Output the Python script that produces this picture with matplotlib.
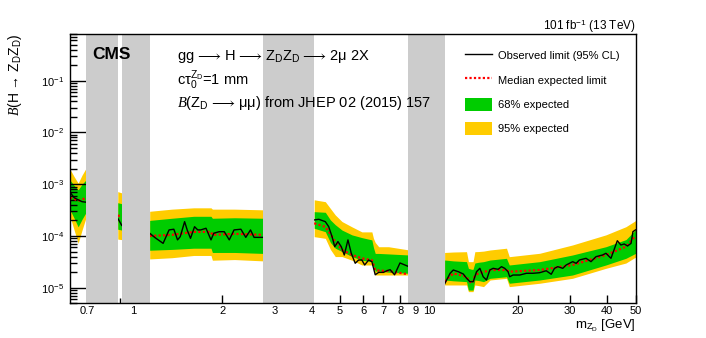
import numpy as np
import matplotlib
matplotlib.use("Agg")
import matplotlib.pyplot as plt
from matplotlib.lines import Line2D
from matplotlib.patches import Patch
from matplotlib.ticker import LogLocator, FixedLocator, NullFormatter

plt.rcParams['font.family'] = ['Liberation Sans', 'DejaVu Sans']
plt.rcParams['mathtext.fontset'] = 'custom'
plt.rcParams['mathtext.rm'] = 'Liberation Sans'
plt.rcParams['mathtext.it'] = 'Liberation Serif:italic'
plt.rcParams['mathtext.bf'] = 'Liberation Sans:bold'
plt.rcParams['mathtext.fallback'] = 'stix'

# mass windows removed from the search (GeV)
vetoed = [(0.69, 0.885), (0.913, 1.135), (2.75, 4.09), (8.5, 11.3)]

# expected bands, one list per mass segment
band_mass = [
    [0.61, 0.63, 0.65, 0.67, 0.69],
    [0.885, 0.913],
    [1.135, 1.35, 1.6, 1.83, 1.85, 2.2, 2.75],
    [4.09, 4.46, 4.64, 4.82, 5.08, 5.49, 5.93, 6.41, 6.49, 6.58, 6.76, 7.3, 8.5],
    [11.3, 12.1, 13.4, 13.6, 13.95, 14.1, 14.3, 14.7, 15.3, 16.1, 18.3, 18.7,
     23.7, 30.6, 39.7, 46.4, 50],
]
band95_hi = [
    [1.95e-3, 1.4e-3, 1.05e-3, 1.5e-3, 2.0e-3],
    [7.2e-4, 6.8e-4],
    [3.0e-4, 3.3e-4, 3.5e-4, 3.5e-4, 3.3e-4, 3.3e-4, 3.2e-4],
    [5.0e-4, 4.6e-4, 3.4e-4, 2.55e-4, 1.9e-4, 1.5e-4, 1.2e-4, 1.2e-4, 9.0e-5,
     7.5e-5, 6.2e-5, 6.2e-5, 5.4e-5],
    [4.8e-5, 4.9e-5, 4.97e-5, 3.19e-5, 3.19e-5, 3.19e-5, 4.97e-5, 5.0e-5, 5.1e-5,
     5.36e-5, 5.8e-5, 3.98e-5, 4.63e-5, 6.7e-5, 1.05e-4, 1.51e-4, 1.98e-4],
]
band68_hi = [
    [1.2e-3, 9.5e-4, 7.8e-4, 1.0e-3, 1.2e-3],
    [4.4e-4, 4.2e-4],
    [2.0e-4, 2.2e-4, 2.4e-4, 2.4e-4, 2.2e-4, 2.25e-4, 2.2e-4],
    [2.95e-4, 2.87e-4, 2.04e-4, 1.65e-4, 1.3e-4, 1.05e-4, 9.3e-5, 8.4e-5, 6.0e-5,
     4.6e-5, 4.6e-5, 4.5e-5, 4.3e-5],
    [3.43e-5, 3.3e-5, 3.19e-5, 2.37e-5, 2.27e-5, 2.27e-5, 3.0e-5, 3.1e-5, 3.19e-5,
     3.43e-5, 3.7e-5, 2.75e-5, 3.19e-5, 4.29e-5, 6.2e-5, 8.5e-5, 1.31e-4],
]
band68_lo = [
    [3.2e-4, 2.2e-4, 1.5e-4, 2.1e-4, 2.8e-4],
    [1.35e-4, 1.3e-4],
    [5.3e-5, 5.5e-5, 5.8e-5, 5.8e-5, 4.8e-5, 4.8e-5, 4.6e-5],
    [1.41e-4, 1.21e-4, 7.5e-5, 5.8e-5, 5.0e-5, 4.0e-5, 3.4e-5, 3.2e-5, 2.6e-5,
     2.1e-5, 2.1e-5, 2.0e-5, 1.9e-5],
    [1.41e-5, 1.36e-5, 1.31e-5, 9.0e-6, 9.0e-6, 9.0e-6, 1.41e-5, 1.38e-5, 1.31e-5,
     1.52e-5, 1.63e-5, 1.22e-5, 1.41e-5, 1.76e-5, 2.75e-5, 3.7e-5, 4.6e-5],
]
band95_lo = [
    [2.4e-4, 1.3e-4, 7.2e-5, 1.3e-4, 2.2e-4],
    [8.7e-5, 8.5e-5],
    [3.6e-5, 3.8e-5, 4.2e-5, 4.2e-5, 3.4e-5, 3.5e-5, 3.3e-5],
    [9.7e-5, 9.0e-5, 5.5e-5, 4.0e-5, 4.0e-5, 3.4e-5, 2.75e-5, 2.75e-5, 2.4e-5,
     1.76e-5, 1.76e-5, 1.76e-5, 1.76e-5],
    [1.13e-5, 1.13e-5, 1.13e-5, 8.4e-6, 8.4e-6, 8.4e-6, 1.13e-5, 1.1e-5, 1.05e-5,
     1.41e-5, 1.52e-5, 1.05e-5, 1.22e-5, 1.52e-5, 2.37e-5, 3.0e-5, 3.9e-5],
]
expected = [
    [5.5e-4, 5.2e-4, 4.8e-4, 5.0e-4, 5.5e-4],
    [2.5e-4, 2.3e-4],
    [1.0e-4, 1.05e-4, 1.2e-4, 1.2e-4, 1.05e-4, 1.1e-4, 1.05e-4],
    [1.76e-4, 1.5e-4, 1.1e-4, 7.6e-5, 5.4e-5, 4.3e-5, 3.7e-5, 3.4e-5, 2.8e-5,
     2.2e-5, 2.15e-5, 2.1e-5, 1.82e-5],
    [1.31e-5, 1.9e-5, 1.63e-5, 1.4e-5, 1.22e-5, 1.3e-5, 1.7e-5, 1.9e-5, 2.0e-5,
     2.2e-5, 2.2e-5, 2.04e-5, 2.2e-5, 2.75e-5, 4.29e-5, 6.2e-5, 1.0e-4],
]

# observed limit
obs_mass = [
    [0.61, 0.63, 0.65, 0.67, 0.69],
    [0.885, 0.913],
    [1.135, 1.18, 1.26, 1.32, 1.37, 1.41, 1.44, 1.49, 1.52, 1.56, 1.61, 1.65, 1.69,
     1.76, 1.83, 1.87, 1.95, 2.03, 2.11, 2.19, 2.31, 2.40, 2.49, 2.56, 2.66, 2.75],
    [4.09, 4.24, 4.46, 4.58, 4.70, 4.80, 4.92, 5.05, 5.17, 5.32, 5.46, 5.63, 5.78,
     5.93, 6.06, 6.25, 6.41, 6.58, 6.76, 7.02, 7.2, 7.39, 7.65, 7.98, 8.5],
    [11.3, 11.48, 11.79, 12.09, 12.57, 13.07, 13.41, 13.76, 14.12, 14.49, 14.87,
     15.26, 15.66, 16.07, 16.49, 17.14, 17.6, 18.05, 18.52, 18.76, 19.25, 20.28,
     21.37, 22.49, 23.68, 24.94, 25.93, 26.6, 27.29, 28.37, 29.13, 29.88, 30.65,
     31.48, 32.29, 34.01, 35.35, 36.75, 38.68, 39.71, 41.3, 43.4, 44.6, 45.8,
     47.0, 48.3, 49.0, 50],
]
observed = [
    [7.0e-4, 5.5e-4, 5.0e-4, 4.6e-4, 4.5e-4],
    [2.2e-4, 1.6e-4],
    [1.13e-4, 9.4e-5, 7.2e-5, 1.31e-4, 1.35e-4, 8.4e-5, 9.7e-5, 1.89e-4, 1.31e-4,
     9.0e-5, 1.51e-4, 1.31e-4, 1.31e-4, 1.41e-4, 8.4e-5, 1.13e-4, 1.21e-4, 1.21e-4,
     8.4e-5, 1.31e-4, 1.35e-4, 9.4e-5, 1.31e-4, 9.4e-5, 9.4e-5, 9.4e-5],
    [2.04e-4, 2.10e-4, 1.89e-4, 1.51e-4, 9.7e-5, 6.2e-5, 7.8e-5, 6.2e-5, 4.29e-5,
     8.4e-5, 4.63e-5, 2.97e-5, 3.43e-5, 3.43e-5, 2.75e-5, 3.43e-5, 3.19e-5, 1.78e-5,
     1.98e-5, 1.98e-5, 2.13e-5, 2.23e-5, 1.78e-5, 3.01e-5, 2.59e-5],
    [1.18e-5, 1.41e-5, 1.9e-5, 2.2e-5, 2.04e-5, 1.84e-5, 1.52e-5, 1.31e-5, 1.31e-5,
     2.04e-5, 2.37e-5, 1.63e-5, 1.41e-5, 2.2e-5, 2.37e-5, 2.27e-5, 2.55e-5, 2.37e-5,
     2.04e-5, 1.63e-5, 1.76e-5, 1.76e-5, 1.9e-5, 1.9e-5, 1.95e-5, 2.13e-5, 1.82e-5,
     2.37e-5, 2.55e-5, 2.37e-5, 2.75e-5, 2.96e-5, 3.19e-5, 2.96e-5, 3.43e-5,
     3.7e-5, 3.19e-5, 3.98e-5, 4.29e-5, 4.63e-5, 3.7e-5, 8.1e-5, 6.7e-5, 7.0e-5,
     6.4e-5, 7.2e-5, 1.21e-4, 1.31e-4],
]

xticks = [0.7, 1, 2, 3, 4, 5, 6, 7, 8, 9, 10, 20, 30, 40, 50]
xticklabels = ['0.7', '1', '2', '3', '4', '5', '6', '7', '8', '9', '10',
               '20', '30', '40', '50']

green = '#00cc00'
yellow = '#ffcc00'
gray = '#cccccc'

W, H = 706, 338
fig = plt.figure(figsize=(W / 100, H / 100), dpi=100)
ax = fig.add_axes([70 / W, 1 - 303.3 / H, 565.5 / W, 269.3 / H])
ax.set_xscale('log')
ax.set_yscale('log')

for i in range(len(band_mass)):
    ax.fill_between(band_mass[i], band95_lo[i], band95_hi[i], color=yellow, lw=0)
    ax.fill_between(band_mass[i], band68_lo[i], band68_hi[i], color=green, lw=0)
    ax.plot(band_mass[i], expected[i], color='red', lw=1.6, ls=(0, (1, 1)))
    ax.plot(obs_mass[i], observed[i], color='black', lw=1.0)

for lo, hi in vetoed:
    ax.axvspan(lo, hi, color=gray, lw=0, zorder=3)

ax.set_xlim(0.61, 50)
ax.set_ylim(5e-6, 0.8)

ax.set_xticks(xticks)
ax.set_xticklabels(xticklabels)
ax.xaxis.set_minor_locator(FixedLocator([0.8, 0.9]))
ax.xaxis.set_minor_formatter(NullFormatter())
ax.yaxis.set_major_locator(LogLocator(base=10, numticks=10))
ax.yaxis.set_minor_locator(LogLocator(base=10, subs=np.arange(2, 10), numticks=20))
ax.yaxis.set_minor_formatter(NullFormatter())

ax.tick_params(axis='both', which='both', direction='in', width=1.0,
               labelsize=8, top=False, right=False)
ax.tick_params(axis='x', which='major', length=5.5, pad=2)
ax.tick_params(axis='x', which='minor', length=3.5)
ax.tick_params(axis='y', which='major', length=11.5, pad=4)
ax.tick_params(axis='y', which='minor', length=5)
for sp in ax.spines.values():
    sp.set_linewidth(1.0)
    sp.set_zorder(5)

def fx(px):
    return px / W

def fy(py):
    return 1 - py / H

arrow = '$\\,\\longrightarrow\\,$'
fig.text(fx(92), fy(59), 'CMS', fontsize=12.5, fontweight='bold', va='baseline')
fig.text(fx(177), fy(60),
         f'gg{arrow}H{arrow}Z$_\\mathrm{{D}}$Z$_\\mathrm{{D}}${arrow}2μ 2X',
         fontsize=10.5, va='baseline')
fig.text(fx(177), fy(85), 'cτ$_0^{\\mathrm{Z}_\\mathrm{D}}$=1 mm',
         fontsize=10.5, va='baseline')
fig.text(fx(177), fy(107),
         f'$\\mathit{{B}}$(Z$_\\mathrm{{D}}${arrow}μμ) from JHEP 02 (2015) 157',
         fontsize=10.5, va='baseline')
fig.text(fx(636), fy(30), '101 fb$^{-1}$ (13 TeV)', fontsize=8.5,
         ha='right', va='baseline')
fig.text(fx(15.5), fy(34), '$\\mathit{B}$(H → Z$_\\mathrm{D}$Z$_\\mathrm{D}$)',
         fontsize=10, rotation=90, ha='center', va='top')
fig.text(fx(636), fy(329), 'm$_{\\mathrm{Z}_\\mathrm{D}}$ [GeV]', fontsize=9.5,
         ha='right', va='baseline')

handles = [
    Line2D([], [], color='black', lw=1.0),
    Line2D([], [], color='red', lw=1.6, ls=(0, (1, 1))),
    Patch(facecolor=green, edgecolor='none'),
    Patch(facecolor=yellow, edgecolor='none'),
]
labels = ['Observed limit (95% CL)', 'Median expected limit',
          '68% expected', '95% expected']
fig.legend(handles, labels, loc='upper left', bbox_to_anchor=(fx(465), fy(49)),
           frameon=False, fontsize=8, borderpad=0, borderaxespad=0,
           handlelength=2.45, handleheight=1.45, handletextpad=0.5,
           labelspacing=1.0)

fig.savefig('out.png', dpi=100)
